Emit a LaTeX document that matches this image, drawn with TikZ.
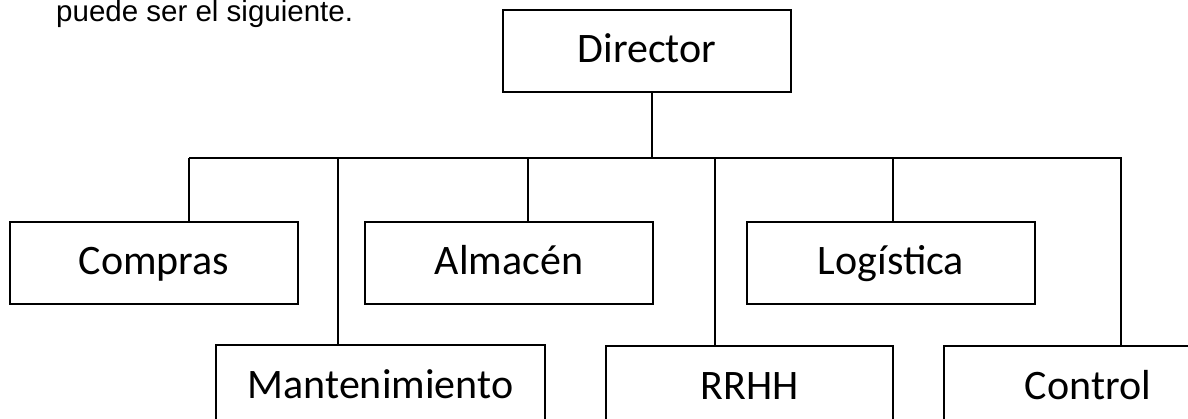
\documentclass[tikz,border=0pt]{standalone}
\usepackage{fontspec}
\setmainfont{Carlito}
\newfontfamily\introfont{Liberation Sans}
\tikzset{
  unidad/.style = {draw, line width=1.4pt, minimum width=288pt, minimum height=82pt,
    inner sep=0pt, text height=32pt, text depth=8pt, font=\fontsize{42}{50}\selectfont},
  enlace/.style = {line width=1.3pt}
}
\begin{document}
\begin{tikzpicture}[x=1pt, y=-1pt]
  \useasboundingbox (0,0) rectangle (1188,419);
  \clip (0,0) rectangle (1188,419);
  \node[anchor=base west, inner sep=0pt, font=\introfont\fontsize{29.5}{34}\selectfont] (intro) at (56,22) {puede ser el siguiente.};
  % cabeza
  \node[unidad] (director) at (647,51) {Director};
  % primera fila
  \node[unidad] (compras) at (154,263) {Compras};
  \node[unidad] (almacen) at (509,263) {Almacén};
  \node[unidad] (logistica) at (891,263) {Logística};
  % segunda fila
  \node[unidad, minimum width=329pt] (mantenimiento) at (380.5,386) {Mantenimiento};
  \node[unidad, minimum width=287pt] (rrhh) at (749.5,387) {RRHH};
  \node[unidad] (control) at (1088,387) {Control};
  % barra
  \coordinate (barra-o) at (189,158);
  \coordinate (barra-e) at (1122,158);
  \coordinate (tronco) at (652,158);
  \draw[enlace] (barra-o) -- (barra-e);
  \draw[enlace] (director.south -| tronco) -- (tronco);
  \foreach \hijo/\xx in {compras/189, almacen/528, logistica/893,
                         mantenimiento/338, rrhh/715, control/1121}
    \draw[enlace] (\xx,0 |- barra-o) -- (\hijo.north -| \xx,0);
\end{tikzpicture}
\end{document}
